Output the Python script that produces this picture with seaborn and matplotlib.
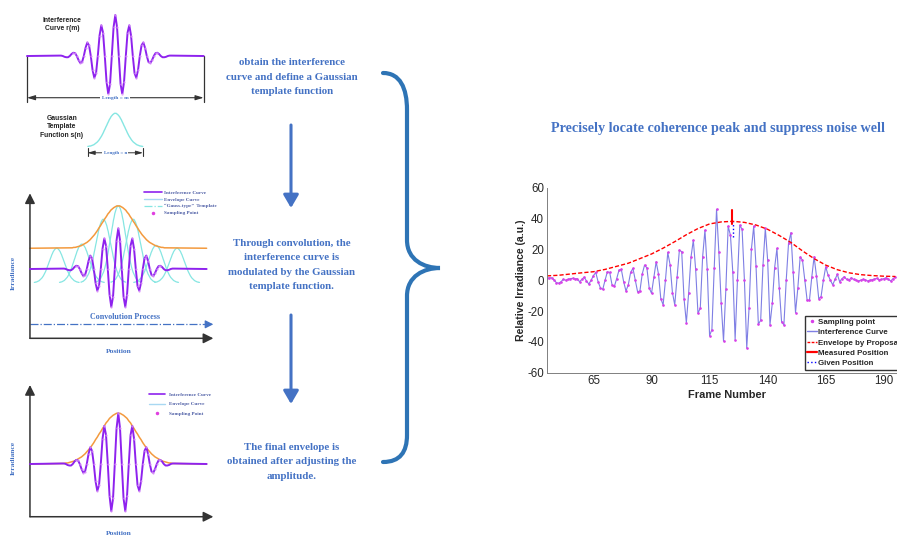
import numpy as np
import matplotlib
matplotlib.use("Agg")
import matplotlib.pyplot as plt
from matplotlib.lines import Line2D
from matplotlib.path import Path
from matplotlib.patches import PathPatch
import seaborn as sns

W, H = 897, 536

# ---------------- right chart: values ----------------
frames = list(range(45, 196))
irradiance = [
    1.2, 1.5, 1.6, 0.2, -1.5, -2.0, -1.0, 0.5, 0.0, 0.5,
    1.0, 1.2, 0.8, 1.0, -1.0, 0.5, 2.0, -0.5, -2.5, 0.0,
    3.0, 5.0, -1.0, -5.0, -6.0, 0.0, 5.5, 5.0, -3.0, -4.0,
    1.0, 6.5, 7.0, -1.0, -7.0, -3.0, 5.0, 7.7, 0.0, -7.5,
    -7.0, 4.0, 9.8, 8.0, -5.0, -8.5, 2.0, 12.0, 4.0, -12.0,
    -16.0, 0.0, 18.0, 10.0, -8.0, -16.0, 2.0, 19.5, 18.5, -12.0,
    -27.5, -8.0, 15.0, 26.0, 7.0, -21.5, -18.0, 15.0, 32.5, 7.0,
    -36.0, -32.0, 8.0, 46.0, 18.0, -15.0, -39.5, -6.0, 35.0, 29.0,
    5.0, -38.5, 0.0, 35.7, 33.0, 0.0, -44.0, -18.0, 20.0, 35.0,
    9.0, -28.6, -26.0, 10.0, 33.6, 13.0, -29.0, -15.0, 8.0, 20.6,
    -5.0, -27.0, -29.0, 0.0, 24.0, 30.8, 5.0, -21.0, -5.0, 15.0,
    13.0, 0.0, -13.0, -13.0, 2.0, 15.2, 3.0, -12.0, -10.6, 0.0,
    8.7, 3.4, 0.0, -3.0, 0.5, 3.8, -1.0, 1.0, 2.3, 0.5,
    0.0, 1.6, 0.5, 0.0, -0.5, 0.0, 0.5, 0.3, -0.5, 0.0,
    0.3, 0.8, 1.2, 0.3, 0.5, 1.0, 1.6, 0.5, -0.5, 1.0,
    2.0,
]
env_frames = list(range(45, 196, 5))
env_values = [2.8, 3.2, 4.0, 4.8, 5.5, 7.0, 9.0, 11.0, 14.0, 17.0,
              20.8, 25.0, 29.5, 33.5, 36.5, 37.8, 38.2, 37.5, 35.8, 33.0,
              29.0, 24.5, 19.0, 14.0, 9.8, 6.8, 4.8, 3.6, 3.0, 2.6, 2.4]
measured_pos = 124.8
measured_span = [36.5, 45.5]
given_pos = 125.1
given_span = [28.0, 38.0]
x_ticks = [65, 90, 115, 140, 165, 190]
y_ticks = [-60, -40, -20, 0, 20, 40, 60]

# ---------------- left schematics (in fringe periods) ----------------
phase = np.arange(-32, 33) / 8
fringe = [0.01, 0.01, 0, -0.02, -0.03, -0.03, 0, 0.05, 0.08, 0.07, 0,
          -0.1, -0.17, -0.15, 0, 0.2, 0.33, 0.26, 0, -0.34, -0.53, -0.42,
          0, 0.5, 0.75, 0.57, 0, -0.63, -0.93, -0.68, 0, 0.7,
          1.0,
          0.7, 0, -0.68, -0.93, -0.63, 0, 0.57, 0.75, 0.5, 0, -0.42, -0.53,
          -0.34, 0, 0.26, 0.33, 0.2, 0, -0.15, -0.17, -0.1, 0, 0.07, 0.08,
          0.05, 0, -0.03, -0.03, -0.02, 0, 0.01, 0.01]
gauss = [0.01, 0.01, 0.02, 0.02, 0.03, 0.04, 0.05, 0.06, 0.08, 0.1, 0.12,
         0.14, 0.17, 0.2, 0.24, 0.28, 0.32, 0.37, 0.42, 0.48, 0.53, 0.59,
         0.64, 0.7, 0.75, 0.81, 0.85, 0.9, 0.93, 0.96, 0.98, 1.0,
         1.0,
         1.0, 0.98, 0.96, 0.93, 0.9, 0.85, 0.81, 0.75, 0.7, 0.64, 0.59,
         0.53, 0.48, 0.42, 0.37, 0.32, 0.28, 0.24, 0.2, 0.17, 0.14, 0.12,
         0.1, 0.08, 0.06, 0.05, 0.04, 0.03, 0.02, 0.02, 0.01, 0.01]
conv_centers = [-4.4, -2.6, -1.07, 0.0, 1.07, 2.7, 4.2]
conv_peaks = [0.51, 0.61, 1.22, 1.55, 1.22, 0.58, 0.51]

SPAN = 6.31
PURPLE = "#8e22ee"
ORANGE = "#f39a3e"
CYAN = "#86e6e2"
BLUE = "#4472C4"
LEG_TXT = "#4f5fa6"

sns.set_theme(style="white")
plt.rcParams["font.family"] = ["Liberation Sans", "DejaVu Sans"]
plt.rcParams["axes.unicode_minus"] = False

fig = plt.figure(figsize=(W / 100, H / 100), dpi=100)

# overlay canvas in pixel units for texts, arrows and the brace
bg = fig.add_axes([0, 0, 1, 1])
bg.set_xlim(0, W)
bg.set_ylim(H, 0)
bg.axis("off")


def panel(box, xlim, ylim):
    x0, y0, x1, y1 = box
    ax = fig.add_axes([x0 / W, 1 - y1 / H, (x1 - x0) / W, (y1 - y0) / H])
    ax.set_xlim(*xlim)
    ax.set_ylim(*ylim)
    ax.axis("off")
    ax.patch.set_alpha(0)
    return ax


def draw_fringe(ax, scale=1.0):
    xs = np.r_[-SPAN, phase, SPAN]
    ys = np.r_[0, fringe, 0] * scale
    ax.plot(xs, ys, color=PURPLE, lw=1.4, zorder=3)
    ax.plot(phase[8:-8], np.array(fringe)[8:-8] * scale, ls="none", marker="o",
            ms=0.5, color="#d890f8", zorder=4)


def axis_arrows(ax, x0, y0, x1, y1):
    kw = dict(arrowstyle="-|>,head_width=0.25,head_length=0.5", color="#333333",
              lw=1.1, shrinkA=0, shrinkB=0)
    ax.annotate("", xy=(x0, y1), xytext=(x0, y0), arrowprops=kw)
    ax.annotate("", xy=(x1, y0), xytext=(x0, y0), arrowprops=kw)


serif_b = dict(family=["Liberation Serif", "DejaVu Serif"], fontweight="bold")

# ---- panel A: interference curve and template ----
axA = panel((0, 0, 230, 170), (-8.236, 8.193), (-2.780, 1.366))
draw_fringe(axA)
for sx in (-SPAN, SPAN):
    axA.plot([sx, sx], [0, -1.115], color="#333333", lw=0.9)
axA.annotate("", xy=(-SPAN, -1.017), xytext=(SPAN, -1.017),
             arrowprops=dict(arrowstyle="<|-|>,head_width=0.12,head_length=0.4",
                             color="#333333", lw=0.8, shrinkA=0, shrinkB=0))
axA.text(0, -1.017, "Length = m", ha="center", va="center", fontsize=3.9,
         color=BLUE, bbox=dict(fc="white", ec="none", pad=1.2), **serif_b)
axA.plot(phase * 0.49, -2.212 + 0.814 * np.array(gauss), color=CYAN, lw=1.0)
for sx in (-1.98, 1.98):
    axA.plot([sx, sx], [-2.24, -2.44], color="#333333", lw=0.8)
axA.annotate("", xy=(-1.98, -2.36), xytext=(1.98, -2.36),
             arrowprops=dict(arrowstyle="<|-|>,head_width=0.1,head_length=0.35",
                             color="#333333", lw=0.7, shrinkA=0, shrinkB=0))
axA.text(0, -2.36, "Length = n", ha="center", va="center", fontsize=3.6,
         color=BLUE, bbox=dict(fc="white", ec="none", pad=1.0), **serif_b)
axA.text(-3.81, 0.77, "Interference\nCurve r(m)", ha="center", va="center",
         fontsize=4.9, fontweight="bold", color="#222222", linespacing=1.35)
axA.text(-3.81, -1.73, "Gaussian\nTemplate\nFunction s(n)", ha="center",
         va="center", fontsize=4.9, fontweight="bold", color="#222222",
         linespacing=1.35)

# ---- panel B: convolution process ----
axB = panel((0, 180, 230, 360), (-8.45, 7.98), (-2.236, 2.187))
axis_arrows(axB, -SPAN, -1.703, 6.79, 1.86)
for c, p in zip(conv_centers, conv_peaks):
    axB.plot(c + phase * 0.4, -0.337 + (p + 0.337) * np.array(gauss),
             color=CYAN, lw=0.9, zorder=2)
axB.plot(np.r_[-SPAN, phase * 0.85, SPAN], 0.51 + 1.04 * np.r_[0, gauss, 0],
         color=ORANGE, lw=1.1, zorder=2)
draw_fringe(axB)
axB.plot([-SPAN, 6.6], [-1.359, -1.359], color=BLUE, lw=0.9, ls="-.")
axB.annotate("", xy=(6.79, -1.359), xytext=(6.4, -1.359),
             arrowprops=dict(arrowstyle="-|>,head_width=0.2,head_length=0.4",
                             color=BLUE, lw=0.9, shrinkA=0, shrinkB=0))
axB.text(0.48, -1.172, "Convolution Process", ha="center", va="center",
         fontsize=5.8, color=BLUE, **serif_b)
axB.text(-7.5, -0.106, "Irradiance", rotation=90, ha="center", va="center",
         fontsize=5.4, color=BLUE, **serif_b)
axB.text(0.05, -2.015, "Position", ha="center", va="center", fontsize=5.4,
         color=BLUE, **serif_b)
legB = [Line2D([], [], color=PURPLE, lw=1.2, label="Interference Curve"),
        Line2D([], [], color="#a8d8f2", lw=1.0, label="Envelope Curve"),
        Line2D([], [], color=CYAN, lw=0.9, ls="-.", label="\u201cGauss-type\u201d  Template"),
        Line2D([], [], ls="none", marker="o", ms=1.5, color="#e040e0",
               label="Sampling Point")]
lb = axB.legend(handles=legB, loc="upper left",
                bbox_to_anchor=(141 / W, 1 - 187.5 / H), bbox_transform=fig.transFigure,
                frameon=False, prop=dict(family="Liberation Serif", weight="bold", size=3.7),
                handlelength=3.6, handletextpad=0.3, labelspacing=0.45, borderpad=0)
for t in lb.get_texts():
    t.set_color(LEG_TXT)

# ---- panel C: final envelope ----
axC = panel((0, 375, 230, 536), (-8.45, 7.98), (-1.42, 1.755))
axis_arrows(axC, -SPAN, -1.04, 6.79, 1.558)
axC.plot(np.r_[-SPAN, phase, SPAN], np.r_[0, gauss, 0], color=ORANGE, lw=1.1, zorder=2)
draw_fringe(axC)
axC.text(-7.5, 0.112, "Irradiance", rotation=90, ha="center", va="center",
         fontsize=5.4, color=BLUE, **serif_b)
axC.text(0.05, -1.367, "Position", ha="center", va="center", fontsize=5.4,
         color=BLUE, **serif_b)
legC = [Line2D([], [], color=PURPLE, lw=1.2, label="Interference Curve"),
        Line2D([], [], color="#a8d8f2", lw=1.0, label="Envelope Curve"),
        Line2D([], [], ls="none", marker="o", ms=1.5, color="#e040e0",
               label="Sampling Point")]
lc = axC.legend(handles=legC, loc="upper left",
                bbox_to_anchor=(146 / W, 1 - 390 / H), bbox_transform=fig.transFigure,
                frameon=False, prop=dict(family="Liberation Serif", weight="bold", size=3.7),
                handlelength=3.2, handletextpad=0.8, labelspacing=0.9, borderpad=0)
for t in lc.get_texts():
    t.set_color(LEG_TXT)

# ---- middle column: captions and arrows ----
cap = dict(ha="center", va="center", fontsize=7.8, color=BLUE, linespacing=1.8, **serif_b)
bg.text(291.7, 77, "obtain the interference\ncurve and define a Gaussian\ntemplate function", **cap)
bg.text(291.7, 265, "Through convolution, the\ninterference curve is\nmodulated by the Gaussian\ntemplate function.", **cap)
bg.text(291.7, 461.7, "The final envelope is\nobtained after adjusting the\namplitude.", **cap)
for y0, y1 in ((125, 208), (315, 404)):
    bg.annotate("", xy=(291, y1), xytext=(291, y0),
                arrowprops=dict(arrowstyle="-|>,head_width=0.38,head_length=0.65",
                                color=BLUE, lw=2.2, shrinkA=0, shrinkB=0))

brace = Path([(383, 73), (400, 73), (407, 88), (407, 110),
              (407, 240),
              (407, 260), (424, 268), (440, 268),
              (424, 268), (407, 276), (407, 296),
              (407, 435),
              (407, 452), (400, 462), (383, 462)],
             [Path.MOVETO, Path.CURVE4, Path.CURVE4, Path.CURVE4,
              Path.LINETO,
              Path.CURVE4, Path.CURVE4, Path.CURVE4,
              Path.CURVE4, Path.CURVE4, Path.CURVE4,
              Path.LINETO,
              Path.CURVE4, Path.CURVE4, Path.CURVE4])
bg.add_patch(PathPatch(brace, fc="none", ec="#2E74B5", lw=3.0, capstyle="round"))

bg.text(718.3, 128.3, "Precisely locate coherence peak and suppress noise well",
        ha="center", va="center", fontsize=10.2, color=BLUE, **serif_b)

# ---- right chart ----
axr = fig.add_axes([547 / W, 1 - 372.7 / H, (907 - 547) / W, 185 / H])
axr.patch.set_alpha(0)
sns.lineplot(x=frames, y=irradiance, ax=axr, color="#7f7fe4", lw=0.8, legend=False)
axr.plot(frames, irradiance, ls="none", marker="o", ms=0.9, color="#d840e8")
axr.plot(env_frames, env_values, color="red", lw=1.0, ls=(0, (3, 1.5)))
axr.plot([measured_pos, measured_pos], measured_span, color="red", lw=1.5)
axr.plot([given_pos, given_pos], given_span, color="blue", lw=1.0, ls=":")
axr.set_xlim(45, 200)
axr.set_ylim(-60, 60)
axr.set_xticks(x_ticks)
axr.set_yticks(y_ticks)
for s in ("top", "right"):
    axr.spines[s].set_visible(False)
for s in ("left", "bottom"):
    axr.spines[s].set_color("#808080")
    axr.spines[s].set_linewidth(0.7)
axr.tick_params(direction="in", length=3, width=0.6, color="#808080",
                labelsize=8.3, labelcolor="#262626", pad=2)
axr.set_xlabel("Frame Number", fontsize=7.9, fontweight="bold", labelpad=2)
axr.set_ylabel("Relative Irradiance (a.u.)", fontsize=7.6, fontweight="bold", labelpad=1)

handles = [Line2D([], [], ls="none", marker="o", ms=1.5, color="#d840e8", label="Sampling point"),
           Line2D([], [], color="#7f7fe4", lw=1.0, label="Interference Curve"),
           Line2D([], [], color="red", lw=1.0, ls=(0, (2, 1)), label="Envelope by Proposal"),
           Line2D([], [], color="red", lw=1.6, label="Measured Position"),
           Line2D([], [], color="blue", lw=1.0, ls=":", label="Given Position")]
fig.legend(handles=handles, loc="upper left", bbox_to_anchor=(805 / W, 1 - 316 / H),
           prop=dict(weight="bold", size=5.7), handlelength=1.2, handletextpad=0.15,
           borderpad=0.3, borderaxespad=0, labelspacing=0.35, frameon=True,
           fancybox=False, edgecolor="#333333", framealpha=1)

fig.savefig("out.png", dpi=100)
